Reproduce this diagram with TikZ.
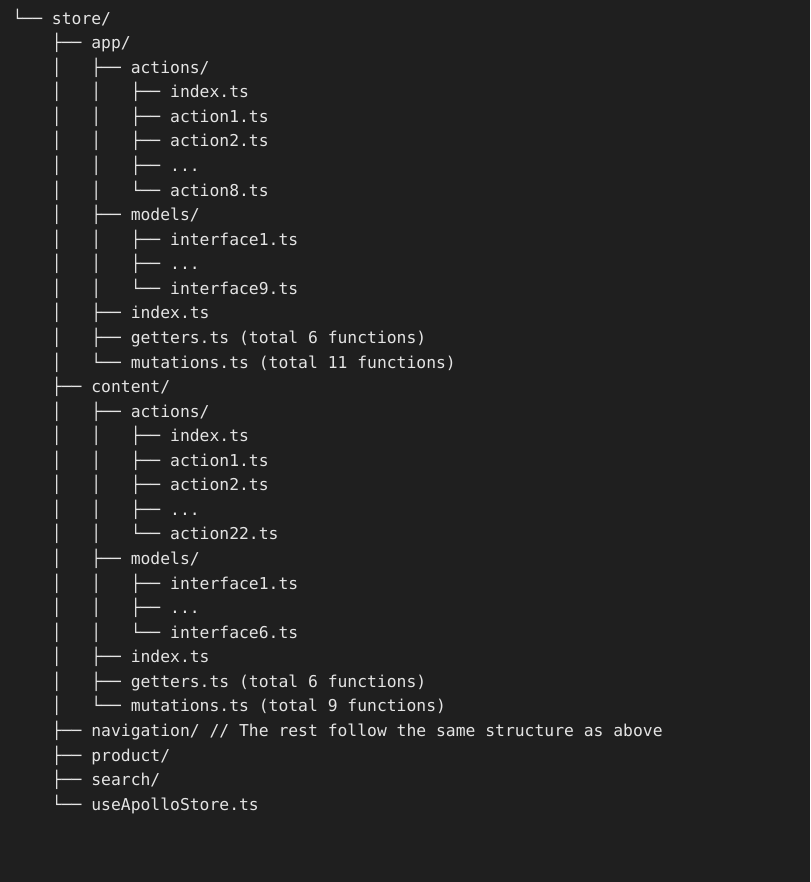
\documentclass[tikz,border=0pt]{standalone}
\usepackage{fontspec}
\newfontfamily\treemono{DejaVu Sans Mono}
\definecolor{bgc}{RGB}{31,31,31}
\definecolor{fgc}{RGB}{228,228,228}
\tikzset{ln/.style={anchor=base west, inner sep=0pt, outer sep=0pt, text=fgc, font=\treemono\fontsize{16.36pt}{24.5pt}\selectfont}}
\begin{document}
\begin{tikzpicture}[x=1pt,y=-1pt]
\fill[bgc] (0,0) rectangle (810,882);
\useasboundingbox (0,0) rectangle (810,882);
\def\lx{12.6}
\def\ly#1{{24.2+24.56*#1}}
\node[ln] (l0)  at (\lx, \ly{0}) {└──~store/};
\node[ln] (l1)  at (\lx, \ly{1}) {~~~~├──~app/};
\node[ln] (l2)  at (\lx, \ly{2}) {~~~~│~~~├──~actions/};
\node[ln] (l3)  at (\lx, \ly{3}) {~~~~│~~~│~~~├──~index.ts};
\node[ln] (l4)  at (\lx, \ly{4}) {~~~~│~~~│~~~├──~action1.ts};
\node[ln] (l5)  at (\lx, \ly{5}) {~~~~│~~~│~~~├──~action2.ts};
\node[ln] (l6)  at (\lx, \ly{6}) {~~~~│~~~│~~~├──~...};
\node[ln] (l7)  at (\lx, \ly{7}) {~~~~│~~~│~~~└──~action8.ts};
\node[ln] (l8)  at (\lx, \ly{8}) {~~~~│~~~├──~models/};
\node[ln] (l9)  at (\lx, \ly{9}) {~~~~│~~~│~~~├──~interface1.ts};
\node[ln] (l10) at (\lx, \ly{10}) {~~~~│~~~│~~~├──~...};
\node[ln] (l11) at (\lx, \ly{11}) {~~~~│~~~│~~~└──~interface9.ts};
\node[ln] (l12) at (\lx, \ly{12}) {~~~~│~~~├──~index.ts};
\node[ln] (l13) at (\lx, \ly{13}) {~~~~│~~~├──~getters.ts~(total~6~functions)};
\node[ln] (l14) at (\lx, \ly{14}) {~~~~│~~~└──~mutations.ts~(total~11~functions)};
\node[ln] (l15) at (\lx, \ly{15}) {~~~~├──~content/};
\node[ln] (l16) at (\lx, \ly{16}) {~~~~│~~~├──~actions/};
\node[ln] (l17) at (\lx, \ly{17}) {~~~~│~~~│~~~├──~index.ts};
\node[ln] (l18) at (\lx, \ly{18}) {~~~~│~~~│~~~├──~action1.ts};
\node[ln] (l19) at (\lx, \ly{19}) {~~~~│~~~│~~~├──~action2.ts};
\node[ln] (l20) at (\lx, \ly{20}) {~~~~│~~~│~~~├──~...};
\node[ln] (l21) at (\lx, \ly{21}) {~~~~│~~~│~~~└──~action22.ts};
\node[ln] (l22) at (\lx, \ly{22}) {~~~~│~~~├──~models/};
\node[ln] (l23) at (\lx, \ly{23}) {~~~~│~~~│~~~├──~interface1.ts};
\node[ln] (l24) at (\lx, \ly{24}) {~~~~│~~~│~~~├──~...};
\node[ln] (l25) at (\lx, \ly{25}) {~~~~│~~~│~~~└──~interface6.ts};
\node[ln] (l26) at (\lx, \ly{26}) {~~~~│~~~├──~index.ts};
\node[ln] (l27) at (\lx, \ly{27}) {~~~~│~~~├──~getters.ts~(total~6~functions)};
\node[ln] (l28) at (\lx, \ly{28}) {~~~~│~~~└──~mutations.ts~(total~9~functions)};
\node[ln] (l29) at (\lx, \ly{29}) {~~~~├──~navigation/~//~The~rest~follow~the~same~structure~as~above};
\node[ln] (l30) at (\lx, \ly{30}) {~~~~├──~product/};
\node[ln] (l31) at (\lx, \ly{31}) {~~~~├──~search/};
\node[ln] (l32) at (\lx, \ly{32}) {~~~~└──~useApolloStore.ts};
\end{tikzpicture}
\end{document}
